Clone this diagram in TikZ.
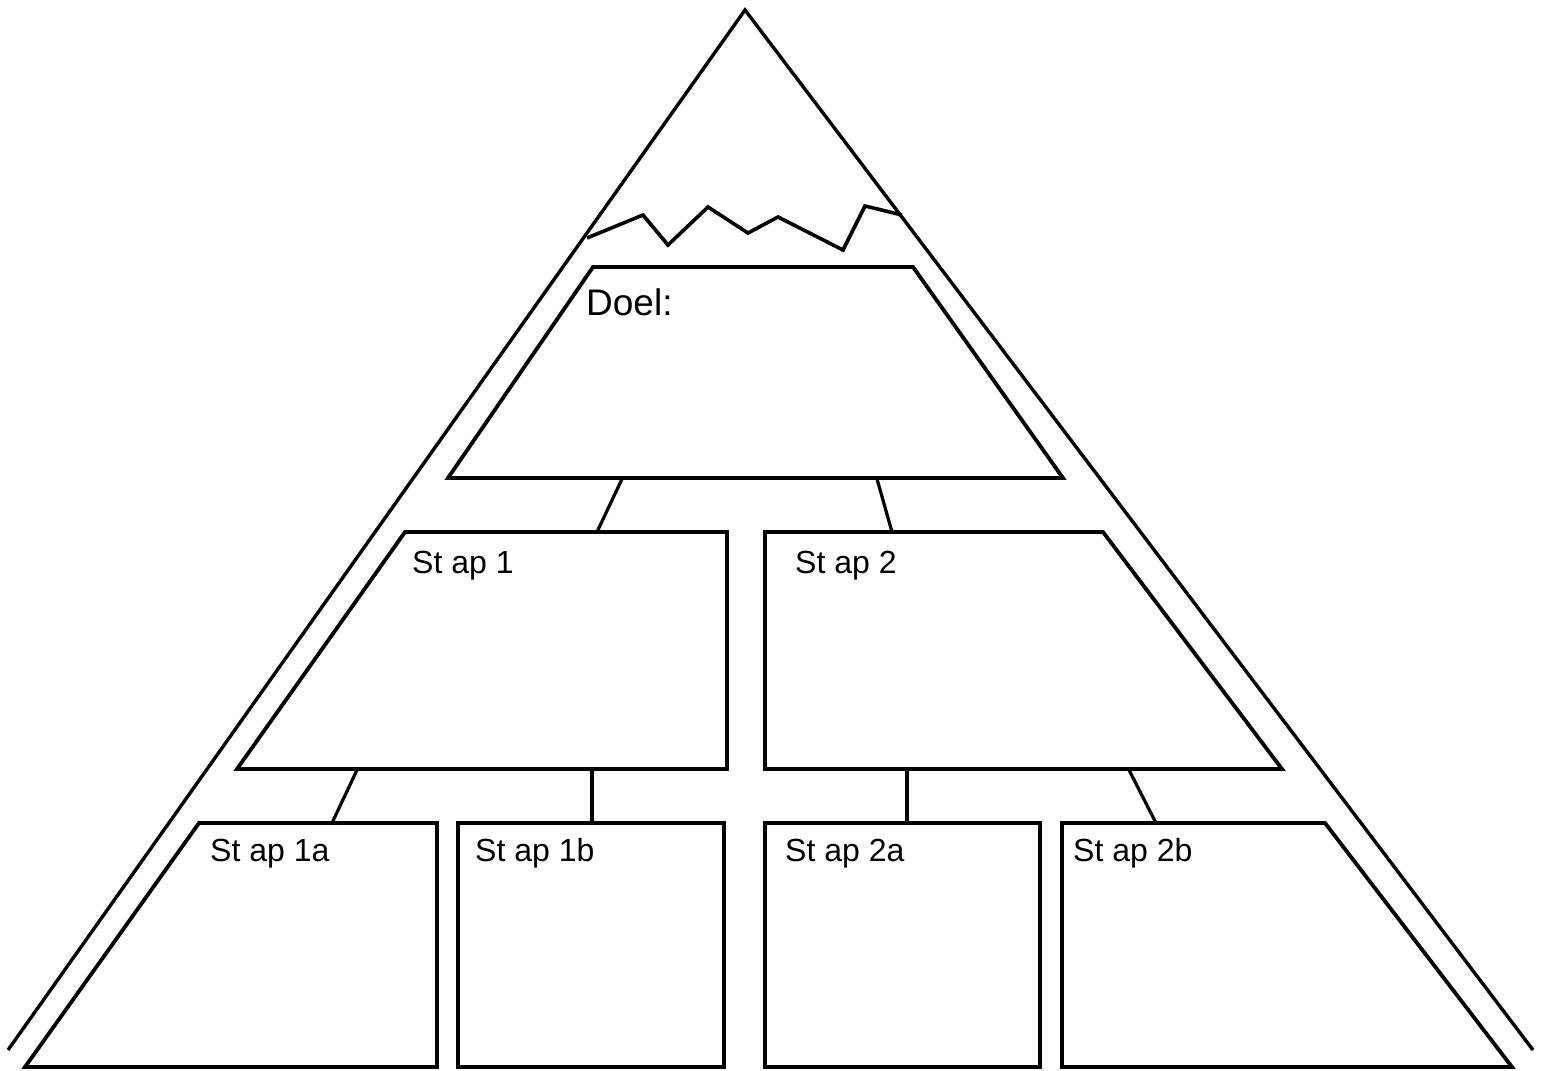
\documentclass[tikz,border=0pt]{standalone}
\usepackage{fontspec}
\setmainfont{Liberation Sans}
\begin{document}
\begin{tikzpicture}[x=1pt,y=-1pt,
  outline/.style={draw=black,line width=3.8pt,line join=miter},
  link/.style={draw=black,line width=3.2pt},
  boxlabel/.style={anchor=base west,inner sep=0pt,font=\fontsize{32}{36}\selectfont},
  goallabel/.style={anchor=base west,inner sep=0pt,font=\fontsize{37}{42}\selectfont}]
\path[use as bounding box,fill=white] (0,0) rectangle (1548,1071);
% mountain
\coordinate (apex) at (745,10);
\coordinate (bl) at (8,1050);
\coordinate (br) at (1533,1050);
\draw[outline,line width=3.4pt] (bl) -- (apex) -- (br);
% snow cap
\draw[outline,line width=3.6pt] (587,238) -- (643,215) -- (668,245) -- (708,207) -- (748,233) -- (778,217) -- (843,250) -- (865,206) -- (902,215);
% Doel
\draw[outline] (593,267) -- (913,267) -- (1063,478) -- (448,478) -- cycle;
\coordinate (d1) at (622,479);
\coordinate (d2) at (877,479);
\node[goallabel] (doel) at (586,315) {Doel:};
% Stap 1
\draw[outline] (405,532) -- (727,532) -- (727,769) -- (237,769) -- cycle;
\coordinate (s1t) at (597,532);
\coordinate (s1a) at (357,770);
\coordinate (s1b) at (592,770);
\node[boxlabel] (stap1) at (412,573) {St ap 1};
% Stap 2
\draw[outline] (765,532) -- (1103,532) -- (1282,769) -- (765,769) -- cycle;
\coordinate (s2t) at (892,532);
\coordinate (s2a) at (907,770);
\coordinate (s2b) at (1129,770);
\node[boxlabel] (stap2) at (795,573) {St ap 2};
% Stap 1a
\draw[outline] (199,823) -- (437,823) -- (437,1067) -- (25,1067) -- cycle;
\coordinate (t1a) at (332,823);
\node[boxlabel] (stap1a) at (210,861) {St ap 1a};
% Stap 1b
\draw[outline] (458,823) rectangle (724,1067);
\coordinate (t1b) at (592,823);
\node[boxlabel] (stap1b) at (475,861) {St ap 1b};
% Stap 2a
\draw[outline] (765,823) rectangle (1040,1067);
\coordinate (t2a) at (907,823);
\node[boxlabel] (stap2a) at (785,861) {St ap 2a};
% Stap 2b
\draw[outline] (1062,823) -- (1325,823) -- (1512,1067) -- (1062,1067) -- cycle;
\coordinate (t2b) at (1156,823);
\node[boxlabel] (stap2b) at (1073,861) {St ap 2b};
% connectors
\draw[link] (d1) -- (s1t);
\draw[link] (d2) -- (s2t);
\draw[link] (s1a) -- (t1a);
\draw[link] (s1b) -- (t1b);
\draw[link] (s2a) -- (t2a);
\draw[link] (s2b) -- (t2b);
\end{tikzpicture}
\end{document}
